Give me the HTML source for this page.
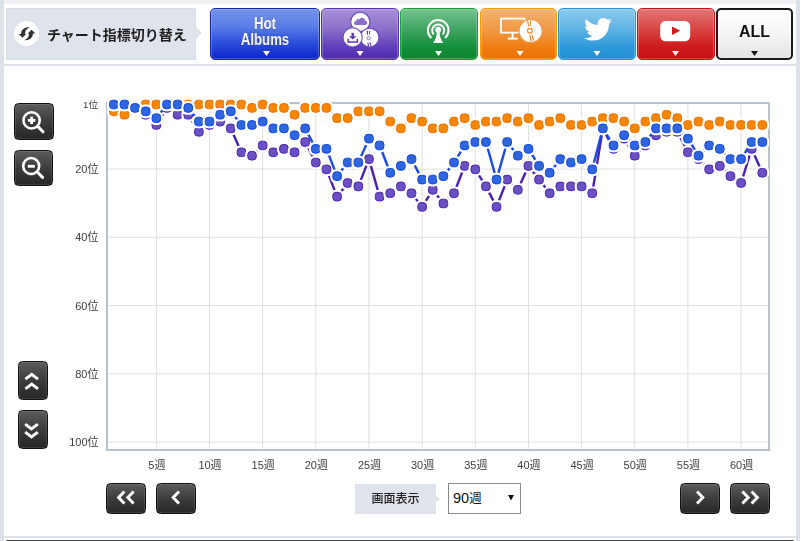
<!DOCTYPE html>
<html lang="ja"><head><meta charset="utf-8"><title>chart</title>
<style>
*{box-sizing:border-box}
html,body{margin:0;padding:0}
body{width:800px;height:541px;overflow:hidden;background:#fff;position:relative;font-family:"Liberation Sans","Noto Sans CJK JP",sans-serif}
.a{position:absolute}
.ax{font-family:"Liberation Sans","Noto Sans CJK JP",sans-serif;font-size:11px;fill:#404040}
.btn{position:absolute;top:8px;height:52px;border-radius:5px;border:1px solid;box-shadow:inset 0 0 0 1px rgba(255,255,255,.22)}
.dk{position:absolute;border-radius:4.5px;border:1px solid #111;background:linear-gradient(#5c5c5c,#3c3c3c 50%,#272727);box-shadow:inset 0 0 0 1px rgba(255,255,255,.1)}
</style></head><body>
<div class="a" style="left:0;top:0;width:800px;height:541px;will-change:transform">
<div class="a" style="left:0;top:0;width:4px;height:541px;background:#dde1ea"></div>
<div class="a" style="left:796px;top:0;width:4px;height:541px;background:#dde1ea"></div>
<div class="a" style="left:4px;top:0;width:792px;height:4px;background:#eff1f4"></div>
<div class="a" style="left:4px;top:64px;width:792px;height:2px;background:#dbe0e8"></div>
<div class="a" style="left:4px;top:536px;width:792px;height:2px;background:#dbe0e8"></div>
<div class="a" style="left:6px;top:540px;width:788px;height:1px;background:#464646;border-radius:2px 2px 0 0"></div>

<!-- header label -->
<div class="a" style="left:6px;top:8px;width:190px;height:52px;background:#dfe3eb;border:1px solid #d6dbe4"></div>
<svg class="a" style="left:0;top:0" width="800" height="70">
<polygon points="195.5,27 201.2,33 195.5,39" fill="#dfe3eb" stroke="#d5dae3" stroke-width="0.8"/><rect x="194" y="27.8" width="2" height="10.4" fill="#dfe3eb"/>
<circle cx="26.5" cy="33.5" r="12.5" fill="#fff"/>
</svg>
<div class="a" style="left:47px;top:25px;font-size:14px;font-weight:bold;color:#1e1e1e;white-space:nowrap;line-height:20px">チャート指標切り替え</div>

<!-- buttons -->
<div class="btn" style="left:210px;width:110px;border-color:#1222bb;background:linear-gradient(#7494e9,#5a7de7 35%,#2f52de 65%,#0d25c9)"></div>
<div class="btn" style="left:321px;width:78px;border-color:#5a2fb5;background:linear-gradient(#a892d6,#8a6fca 40%,#6240bb 75%,#4e2aae)"></div>
<div class="btn" style="left:400px;width:78px;border-color:#169c34;background:linear-gradient(#74c28f,#41a563 40%,#15903a 75%,#0b852d)"></div>
<div class="btn" style="left:480px;width:77px;border-color:#f59a00;background:linear-gradient(#f3b372,#f19a45 40%,#ef7f14 75%,#ec7000)"></div>
<div class="btn" style="left:558px;width:78px;border-color:#2196e0;background:linear-gradient(#8ccbec,#5fb3e4 40%,#2f9ad9 75%,#1f8fd4)"></div>
<div class="btn" style="left:637px;width:78px;border-color:#c81010;background:linear-gradient(#e27676,#d94545 40%,#cd1c1c 75%,#c60f0f)"></div>
<div class="btn" style="left:716px;width:77px;border-color:#1a1a1a;border-width:2px;background:linear-gradient(#ffffff,#f6f6f6 45%,#e4e4e4)"></div>
<div class="a" style="left:210px;top:14.5px;width:110px;text-align:center;color:#fff;font-weight:bold;font-size:16.5px;line-height:16px;text-shadow:0 0 2px rgba(0,10,90,.45);transform:scaleX(0.80);transform-origin:55px 0">Hot<br>Albums</div>
<div class="a" style="left:716px;top:22px;width:77px;text-align:center;color:#111;font-weight:bold;font-size:16px;line-height:20px;text-shadow:0 0 2px #fff">ALL</div>
<svg class="a" style="left:0;top:0" width="800" height="70">
<polygon points="263.0,50.9 270.0,50.9 266.5,55.9" fill="#fff"/><polygon points="356.5,50.9 363.5,50.9 360,55.9" fill="#fff"/><polygon points="435.0,50.9 442.0,50.9 438.5,55.9" fill="#fff"/><polygon points="516.5,50.9 523.5,50.9 520,55.9" fill="#fff"/><polygon points="593.5,50.9 600.5,50.9 597,55.9" fill="#fff"/><polygon points="672.0,50.9 679.0,50.9 675.5,55.9" fill="#fff"/><polygon points="751.0,50.9 758.0,50.9 754.5,55.9" fill="#111"/>
</svg>

<!-- chart -->
<svg class="a" style="left:0;top:0" width="800" height="541">
<line x1="156.36" y1="104" x2="156.36" y2="449" stroke="#dedede" stroke-width="1"/>
<line x1="209.51" y1="104" x2="209.51" y2="449" stroke="#dedede" stroke-width="1"/>
<line x1="262.67" y1="104" x2="262.67" y2="449" stroke="#dedede" stroke-width="1"/>
<line x1="315.82" y1="104" x2="315.82" y2="449" stroke="#dedede" stroke-width="1"/>
<line x1="368.97" y1="104" x2="368.97" y2="449" stroke="#dedede" stroke-width="1"/>
<line x1="422.13" y1="104" x2="422.13" y2="449" stroke="#dedede" stroke-width="1"/>
<line x1="475.29" y1="104" x2="475.29" y2="449" stroke="#dedede" stroke-width="1"/>
<line x1="528.44" y1="104" x2="528.44" y2="449" stroke="#dedede" stroke-width="1"/>
<line x1="581.6" y1="104" x2="581.6" y2="449" stroke="#dedede" stroke-width="1"/>
<line x1="634.75" y1="104" x2="634.75" y2="449" stroke="#dedede" stroke-width="1"/>
<line x1="687.91" y1="104" x2="687.91" y2="449" stroke="#dedede" stroke-width="1"/>
<line x1="741.06" y1="104" x2="741.06" y2="449" stroke="#dedede" stroke-width="1"/>
<line x1="108" y1="169.04" x2="768" y2="169.04" stroke="#e0e0e0" stroke-width="1"/>
<line x1="108" y1="237.29" x2="768" y2="237.29" stroke="#e0e0e0" stroke-width="1"/>
<line x1="108" y1="305.54" x2="768" y2="305.54" stroke="#e0e0e0" stroke-width="1"/>
<line x1="108" y1="373.79" x2="768" y2="373.79" stroke="#e0e0e0" stroke-width="1"/>
<line x1="108" y1="442.04" x2="768" y2="442.04" stroke="#e0e0e0" stroke-width="1"/>
<rect x="107" y="103" width="662" height="347" fill="none" stroke="#b9c1cf" stroke-width="2"/>
<polyline points="113.83,111.33 124.46,114.74 135.09,107.91 145.72,104.50 156.36,104.50 166.99,104.50 177.62,104.50 188.25,104.50 198.88,104.50 209.51,104.50 220.14,104.50 230.77,104.50 241.40,104.50 252.03,107.91 262.67,104.50 273.30,107.91 283.93,107.91 294.56,114.74 305.19,107.91 315.82,107.91 326.45,107.91 337.08,118.15 347.71,118.15 358.34,111.33 368.97,111.33 379.61,111.33 390.24,121.56 400.87,128.39 411.50,118.15 422.13,121.56 432.76,128.39 443.39,128.39 454.02,121.56 464.65,118.15 475.29,124.98 485.92,121.56 496.55,121.56 507.18,118.15 517.81,121.56 528.44,118.15 539.07,124.98 549.70,121.56 560.33,118.15 570.96,124.98 581.60,124.98 592.23,121.56 602.86,118.15 613.49,118.15 624.12,121.56 634.75,128.39 645.38,121.56 656.01,118.15 666.64,114.74 677.27,118.15 687.91,124.98 698.54,121.56 709.17,124.98 719.80,121.56 730.43,124.98 741.06,124.98 751.69,124.98 762.32,124.98" fill="none" stroke="#f27a00" stroke-width="2.4" stroke-linejoin="round"/>
<rect x="107.03" y="104.53" width="13.6" height="13.6" rx="5.4" fill="#fff"/><rect x="109.53" y="107.03" width="8.6" height="8.6" rx="3.3" fill="#f78600" stroke="#ef6e00" stroke-width="1"/>
<rect x="117.66" y="107.94" width="13.6" height="13.6" rx="5.4" fill="#fff"/><rect x="120.16" y="110.44" width="8.6" height="8.6" rx="3.3" fill="#f78600" stroke="#ef6e00" stroke-width="1"/>
<rect x="128.29" y="101.11" width="13.6" height="13.6" rx="5.4" fill="#fff"/><rect x="130.79" y="103.61" width="8.6" height="8.6" rx="3.3" fill="#f78600" stroke="#ef6e00" stroke-width="1"/>
<rect x="138.92" y="97.70" width="13.6" height="13.6" rx="5.4" fill="#fff"/><rect x="141.42" y="100.20" width="8.6" height="8.6" rx="3.3" fill="#f78600" stroke="#ef6e00" stroke-width="1"/>
<rect x="149.56" y="97.70" width="13.6" height="13.6" rx="5.4" fill="#fff"/><rect x="152.06" y="100.20" width="8.6" height="8.6" rx="3.3" fill="#f78600" stroke="#ef6e00" stroke-width="1"/>
<rect x="160.19" y="97.70" width="13.6" height="13.6" rx="5.4" fill="#fff"/><rect x="162.69" y="100.20" width="8.6" height="8.6" rx="3.3" fill="#f78600" stroke="#ef6e00" stroke-width="1"/>
<rect x="170.82" y="97.70" width="13.6" height="13.6" rx="5.4" fill="#fff"/><rect x="173.32" y="100.20" width="8.6" height="8.6" rx="3.3" fill="#f78600" stroke="#ef6e00" stroke-width="1"/>
<rect x="181.45" y="97.70" width="13.6" height="13.6" rx="5.4" fill="#fff"/><rect x="183.95" y="100.20" width="8.6" height="8.6" rx="3.3" fill="#f78600" stroke="#ef6e00" stroke-width="1"/>
<rect x="192.08" y="97.70" width="13.6" height="13.6" rx="5.4" fill="#fff"/><rect x="194.58" y="100.20" width="8.6" height="8.6" rx="3.3" fill="#f78600" stroke="#ef6e00" stroke-width="1"/>
<rect x="202.71" y="97.70" width="13.6" height="13.6" rx="5.4" fill="#fff"/><rect x="205.21" y="100.20" width="8.6" height="8.6" rx="3.3" fill="#f78600" stroke="#ef6e00" stroke-width="1"/>
<rect x="213.34" y="97.70" width="13.6" height="13.6" rx="5.4" fill="#fff"/><rect x="215.84" y="100.20" width="8.6" height="8.6" rx="3.3" fill="#f78600" stroke="#ef6e00" stroke-width="1"/>
<rect x="223.97" y="97.70" width="13.6" height="13.6" rx="5.4" fill="#fff"/><rect x="226.47" y="100.20" width="8.6" height="8.6" rx="3.3" fill="#f78600" stroke="#ef6e00" stroke-width="1"/>
<rect x="234.60" y="97.70" width="13.6" height="13.6" rx="5.4" fill="#fff"/><rect x="237.10" y="100.20" width="8.6" height="8.6" rx="3.3" fill="#f78600" stroke="#ef6e00" stroke-width="1"/>
<rect x="245.23" y="101.11" width="13.6" height="13.6" rx="5.4" fill="#fff"/><rect x="247.73" y="103.61" width="8.6" height="8.6" rx="3.3" fill="#f78600" stroke="#ef6e00" stroke-width="1"/>
<rect x="255.87" y="97.70" width="13.6" height="13.6" rx="5.4" fill="#fff"/><rect x="258.37" y="100.20" width="8.6" height="8.6" rx="3.3" fill="#f78600" stroke="#ef6e00" stroke-width="1"/>
<rect x="266.50" y="101.11" width="13.6" height="13.6" rx="5.4" fill="#fff"/><rect x="269.00" y="103.61" width="8.6" height="8.6" rx="3.3" fill="#f78600" stroke="#ef6e00" stroke-width="1"/>
<rect x="277.13" y="101.11" width="13.6" height="13.6" rx="5.4" fill="#fff"/><rect x="279.63" y="103.61" width="8.6" height="8.6" rx="3.3" fill="#f78600" stroke="#ef6e00" stroke-width="1"/>
<rect x="287.76" y="107.94" width="13.6" height="13.6" rx="5.4" fill="#fff"/><rect x="290.26" y="110.44" width="8.6" height="8.6" rx="3.3" fill="#f78600" stroke="#ef6e00" stroke-width="1"/>
<rect x="298.39" y="101.11" width="13.6" height="13.6" rx="5.4" fill="#fff"/><rect x="300.89" y="103.61" width="8.6" height="8.6" rx="3.3" fill="#f78600" stroke="#ef6e00" stroke-width="1"/>
<rect x="309.02" y="101.11" width="13.6" height="13.6" rx="5.4" fill="#fff"/><rect x="311.52" y="103.61" width="8.6" height="8.6" rx="3.3" fill="#f78600" stroke="#ef6e00" stroke-width="1"/>
<rect x="319.65" y="101.11" width="13.6" height="13.6" rx="5.4" fill="#fff"/><rect x="322.15" y="103.61" width="8.6" height="8.6" rx="3.3" fill="#f78600" stroke="#ef6e00" stroke-width="1"/>
<rect x="330.28" y="111.35" width="13.6" height="13.6" rx="5.4" fill="#fff"/><rect x="332.78" y="113.85" width="8.6" height="8.6" rx="3.3" fill="#f78600" stroke="#ef6e00" stroke-width="1"/>
<rect x="340.91" y="111.35" width="13.6" height="13.6" rx="5.4" fill="#fff"/><rect x="343.41" y="113.85" width="8.6" height="8.6" rx="3.3" fill="#f78600" stroke="#ef6e00" stroke-width="1"/>
<rect x="351.54" y="104.53" width="13.6" height="13.6" rx="5.4" fill="#fff"/><rect x="354.04" y="107.03" width="8.6" height="8.6" rx="3.3" fill="#f78600" stroke="#ef6e00" stroke-width="1"/>
<rect x="362.17" y="104.53" width="13.6" height="13.6" rx="5.4" fill="#fff"/><rect x="364.67" y="107.03" width="8.6" height="8.6" rx="3.3" fill="#f78600" stroke="#ef6e00" stroke-width="1"/>
<rect x="372.81" y="104.53" width="13.6" height="13.6" rx="5.4" fill="#fff"/><rect x="375.31" y="107.03" width="8.6" height="8.6" rx="3.3" fill="#f78600" stroke="#ef6e00" stroke-width="1"/>
<rect x="383.44" y="114.76" width="13.6" height="13.6" rx="5.4" fill="#fff"/><rect x="385.94" y="117.26" width="8.6" height="8.6" rx="3.3" fill="#f78600" stroke="#ef6e00" stroke-width="1"/>
<rect x="394.07" y="121.59" width="13.6" height="13.6" rx="5.4" fill="#fff"/><rect x="396.57" y="124.09" width="8.6" height="8.6" rx="3.3" fill="#f78600" stroke="#ef6e00" stroke-width="1"/>
<rect x="404.70" y="111.35" width="13.6" height="13.6" rx="5.4" fill="#fff"/><rect x="407.20" y="113.85" width="8.6" height="8.6" rx="3.3" fill="#f78600" stroke="#ef6e00" stroke-width="1"/>
<rect x="415.33" y="114.76" width="13.6" height="13.6" rx="5.4" fill="#fff"/><rect x="417.83" y="117.26" width="8.6" height="8.6" rx="3.3" fill="#f78600" stroke="#ef6e00" stroke-width="1"/>
<rect x="425.96" y="121.59" width="13.6" height="13.6" rx="5.4" fill="#fff"/><rect x="428.46" y="124.09" width="8.6" height="8.6" rx="3.3" fill="#f78600" stroke="#ef6e00" stroke-width="1"/>
<rect x="436.59" y="121.59" width="13.6" height="13.6" rx="5.4" fill="#fff"/><rect x="439.09" y="124.09" width="8.6" height="8.6" rx="3.3" fill="#f78600" stroke="#ef6e00" stroke-width="1"/>
<rect x="447.22" y="114.76" width="13.6" height="13.6" rx="5.4" fill="#fff"/><rect x="449.72" y="117.26" width="8.6" height="8.6" rx="3.3" fill="#f78600" stroke="#ef6e00" stroke-width="1"/>
<rect x="457.85" y="111.35" width="13.6" height="13.6" rx="5.4" fill="#fff"/><rect x="460.35" y="113.85" width="8.6" height="8.6" rx="3.3" fill="#f78600" stroke="#ef6e00" stroke-width="1"/>
<rect x="468.49" y="118.18" width="13.6" height="13.6" rx="5.4" fill="#fff"/><rect x="470.99" y="120.68" width="8.6" height="8.6" rx="3.3" fill="#f78600" stroke="#ef6e00" stroke-width="1"/>
<rect x="479.12" y="114.76" width="13.6" height="13.6" rx="5.4" fill="#fff"/><rect x="481.62" y="117.26" width="8.6" height="8.6" rx="3.3" fill="#f78600" stroke="#ef6e00" stroke-width="1"/>
<rect x="489.75" y="114.76" width="13.6" height="13.6" rx="5.4" fill="#fff"/><rect x="492.25" y="117.26" width="8.6" height="8.6" rx="3.3" fill="#f78600" stroke="#ef6e00" stroke-width="1"/>
<rect x="500.38" y="111.35" width="13.6" height="13.6" rx="5.4" fill="#fff"/><rect x="502.88" y="113.85" width="8.6" height="8.6" rx="3.3" fill="#f78600" stroke="#ef6e00" stroke-width="1"/>
<rect x="511.01" y="114.76" width="13.6" height="13.6" rx="5.4" fill="#fff"/><rect x="513.51" y="117.26" width="8.6" height="8.6" rx="3.3" fill="#f78600" stroke="#ef6e00" stroke-width="1"/>
<rect x="521.64" y="111.35" width="13.6" height="13.6" rx="5.4" fill="#fff"/><rect x="524.14" y="113.85" width="8.6" height="8.6" rx="3.3" fill="#f78600" stroke="#ef6e00" stroke-width="1"/>
<rect x="532.27" y="118.18" width="13.6" height="13.6" rx="5.4" fill="#fff"/><rect x="534.77" y="120.68" width="8.6" height="8.6" rx="3.3" fill="#f78600" stroke="#ef6e00" stroke-width="1"/>
<rect x="542.90" y="114.76" width="13.6" height="13.6" rx="5.4" fill="#fff"/><rect x="545.40" y="117.26" width="8.6" height="8.6" rx="3.3" fill="#f78600" stroke="#ef6e00" stroke-width="1"/>
<rect x="553.53" y="111.35" width="13.6" height="13.6" rx="5.4" fill="#fff"/><rect x="556.03" y="113.85" width="8.6" height="8.6" rx="3.3" fill="#f78600" stroke="#ef6e00" stroke-width="1"/>
<rect x="564.16" y="118.18" width="13.6" height="13.6" rx="5.4" fill="#fff"/><rect x="566.66" y="120.68" width="8.6" height="8.6" rx="3.3" fill="#f78600" stroke="#ef6e00" stroke-width="1"/>
<rect x="574.80" y="118.18" width="13.6" height="13.6" rx="5.4" fill="#fff"/><rect x="577.30" y="120.68" width="8.6" height="8.6" rx="3.3" fill="#f78600" stroke="#ef6e00" stroke-width="1"/>
<rect x="585.43" y="114.76" width="13.6" height="13.6" rx="5.4" fill="#fff"/><rect x="587.93" y="117.26" width="8.6" height="8.6" rx="3.3" fill="#f78600" stroke="#ef6e00" stroke-width="1"/>
<rect x="596.06" y="111.35" width="13.6" height="13.6" rx="5.4" fill="#fff"/><rect x="598.56" y="113.85" width="8.6" height="8.6" rx="3.3" fill="#f78600" stroke="#ef6e00" stroke-width="1"/>
<rect x="606.69" y="111.35" width="13.6" height="13.6" rx="5.4" fill="#fff"/><rect x="609.19" y="113.85" width="8.6" height="8.6" rx="3.3" fill="#f78600" stroke="#ef6e00" stroke-width="1"/>
<rect x="617.32" y="114.76" width="13.6" height="13.6" rx="5.4" fill="#fff"/><rect x="619.82" y="117.26" width="8.6" height="8.6" rx="3.3" fill="#f78600" stroke="#ef6e00" stroke-width="1"/>
<rect x="627.95" y="121.59" width="13.6" height="13.6" rx="5.4" fill="#fff"/><rect x="630.45" y="124.09" width="8.6" height="8.6" rx="3.3" fill="#f78600" stroke="#ef6e00" stroke-width="1"/>
<rect x="638.58" y="114.76" width="13.6" height="13.6" rx="5.4" fill="#fff"/><rect x="641.08" y="117.26" width="8.6" height="8.6" rx="3.3" fill="#f78600" stroke="#ef6e00" stroke-width="1"/>
<rect x="649.21" y="111.35" width="13.6" height="13.6" rx="5.4" fill="#fff"/><rect x="651.71" y="113.85" width="8.6" height="8.6" rx="3.3" fill="#f78600" stroke="#ef6e00" stroke-width="1"/>
<rect x="659.84" y="107.94" width="13.6" height="13.6" rx="5.4" fill="#fff"/><rect x="662.34" y="110.44" width="8.6" height="8.6" rx="3.3" fill="#f78600" stroke="#ef6e00" stroke-width="1"/>
<rect x="670.47" y="111.35" width="13.6" height="13.6" rx="5.4" fill="#fff"/><rect x="672.97" y="113.85" width="8.6" height="8.6" rx="3.3" fill="#f78600" stroke="#ef6e00" stroke-width="1"/>
<rect x="681.11" y="118.18" width="13.6" height="13.6" rx="5.4" fill="#fff"/><rect x="683.61" y="120.68" width="8.6" height="8.6" rx="3.3" fill="#f78600" stroke="#ef6e00" stroke-width="1"/>
<rect x="691.74" y="114.76" width="13.6" height="13.6" rx="5.4" fill="#fff"/><rect x="694.24" y="117.26" width="8.6" height="8.6" rx="3.3" fill="#f78600" stroke="#ef6e00" stroke-width="1"/>
<rect x="702.37" y="118.18" width="13.6" height="13.6" rx="5.4" fill="#fff"/><rect x="704.87" y="120.68" width="8.6" height="8.6" rx="3.3" fill="#f78600" stroke="#ef6e00" stroke-width="1"/>
<rect x="713.00" y="114.76" width="13.6" height="13.6" rx="5.4" fill="#fff"/><rect x="715.50" y="117.26" width="8.6" height="8.6" rx="3.3" fill="#f78600" stroke="#ef6e00" stroke-width="1"/>
<rect x="723.63" y="118.18" width="13.6" height="13.6" rx="5.4" fill="#fff"/><rect x="726.13" y="120.68" width="8.6" height="8.6" rx="3.3" fill="#f78600" stroke="#ef6e00" stroke-width="1"/>
<rect x="734.26" y="118.18" width="13.6" height="13.6" rx="5.4" fill="#fff"/><rect x="736.76" y="120.68" width="8.6" height="8.6" rx="3.3" fill="#f78600" stroke="#ef6e00" stroke-width="1"/>
<rect x="744.89" y="118.18" width="13.6" height="13.6" rx="5.4" fill="#fff"/><rect x="747.39" y="120.68" width="8.6" height="8.6" rx="3.3" fill="#f78600" stroke="#ef6e00" stroke-width="1"/>
<rect x="755.52" y="118.18" width="13.6" height="13.6" rx="5.4" fill="#fff"/><rect x="758.02" y="120.68" width="8.6" height="8.6" rx="3.3" fill="#f78600" stroke="#ef6e00" stroke-width="1"/>

<polyline points="113.83,104.50 124.46,104.50 135.09,107.91 145.72,114.74 156.36,124.98 166.99,107.91 177.62,114.74 188.25,114.74 198.88,131.80 209.51,124.98 220.14,121.56 230.77,128.39 241.40,152.28 252.03,155.69 262.67,145.45 273.30,152.28 283.93,148.86 294.56,152.28 305.19,142.04 315.82,162.51 326.45,169.34 337.08,196.64 347.71,182.99 358.34,186.40 368.97,159.10 379.61,196.64 390.24,193.23 400.87,186.40 411.50,193.23 422.13,206.88 432.76,189.81 443.39,203.46 454.02,193.23 464.65,165.93 475.29,169.34 485.92,186.40 496.55,206.88 507.18,179.58 517.81,189.81 528.44,165.93 539.07,179.58 549.70,193.23 560.33,186.40 570.96,186.40 581.60,186.40 592.23,193.23 602.86,128.39 613.49,148.86 624.12,138.62 634.75,155.69 645.38,145.45 656.01,135.21 666.64,131.80 677.27,131.80 687.91,152.28 698.54,159.10 709.17,169.34 719.80,165.93 730.43,176.16 741.06,182.99 751.69,148.86 762.32,172.75" fill="none" stroke="#4a1db3" stroke-width="2.4" stroke-linejoin="round"/>
<rect x="107.03" y="97.70" width="13.6" height="13.6" rx="5.4" fill="#fff"/><rect x="109.53" y="100.20" width="8.6" height="8.6" rx="3.3" fill="#6b50c3" stroke="#4a24b2" stroke-width="1"/>
<rect x="117.66" y="97.70" width="13.6" height="13.6" rx="5.4" fill="#fff"/><rect x="120.16" y="100.20" width="8.6" height="8.6" rx="3.3" fill="#6b50c3" stroke="#4a24b2" stroke-width="1"/>
<rect x="128.29" y="101.11" width="13.6" height="13.6" rx="5.4" fill="#fff"/><rect x="130.79" y="103.61" width="8.6" height="8.6" rx="3.3" fill="#6b50c3" stroke="#4a24b2" stroke-width="1"/>
<rect x="138.92" y="107.94" width="13.6" height="13.6" rx="5.4" fill="#fff"/><rect x="141.42" y="110.44" width="8.6" height="8.6" rx="3.3" fill="#6b50c3" stroke="#4a24b2" stroke-width="1"/>
<rect x="149.56" y="118.18" width="13.6" height="13.6" rx="5.4" fill="#fff"/><rect x="152.06" y="120.68" width="8.6" height="8.6" rx="3.3" fill="#6b50c3" stroke="#4a24b2" stroke-width="1"/>
<rect x="160.19" y="101.11" width="13.6" height="13.6" rx="5.4" fill="#fff"/><rect x="162.69" y="103.61" width="8.6" height="8.6" rx="3.3" fill="#6b50c3" stroke="#4a24b2" stroke-width="1"/>
<rect x="170.82" y="107.94" width="13.6" height="13.6" rx="5.4" fill="#fff"/><rect x="173.32" y="110.44" width="8.6" height="8.6" rx="3.3" fill="#6b50c3" stroke="#4a24b2" stroke-width="1"/>
<rect x="181.45" y="107.94" width="13.6" height="13.6" rx="5.4" fill="#fff"/><rect x="183.95" y="110.44" width="8.6" height="8.6" rx="3.3" fill="#6b50c3" stroke="#4a24b2" stroke-width="1"/>
<rect x="192.08" y="125.00" width="13.6" height="13.6" rx="5.4" fill="#fff"/><rect x="194.58" y="127.50" width="8.6" height="8.6" rx="3.3" fill="#6b50c3" stroke="#4a24b2" stroke-width="1"/>
<rect x="202.71" y="118.18" width="13.6" height="13.6" rx="5.4" fill="#fff"/><rect x="205.21" y="120.68" width="8.6" height="8.6" rx="3.3" fill="#6b50c3" stroke="#4a24b2" stroke-width="1"/>
<rect x="213.34" y="114.76" width="13.6" height="13.6" rx="5.4" fill="#fff"/><rect x="215.84" y="117.26" width="8.6" height="8.6" rx="3.3" fill="#6b50c3" stroke="#4a24b2" stroke-width="1"/>
<rect x="223.97" y="121.59" width="13.6" height="13.6" rx="5.4" fill="#fff"/><rect x="226.47" y="124.09" width="8.6" height="8.6" rx="3.3" fill="#6b50c3" stroke="#4a24b2" stroke-width="1"/>
<rect x="234.60" y="145.47" width="13.6" height="13.6" rx="5.4" fill="#fff"/><rect x="237.10" y="147.97" width="8.6" height="8.6" rx="3.3" fill="#6b50c3" stroke="#4a24b2" stroke-width="1"/>
<rect x="245.23" y="148.89" width="13.6" height="13.6" rx="5.4" fill="#fff"/><rect x="247.73" y="151.39" width="8.6" height="8.6" rx="3.3" fill="#6b50c3" stroke="#4a24b2" stroke-width="1"/>
<rect x="255.87" y="138.65" width="13.6" height="13.6" rx="5.4" fill="#fff"/><rect x="258.37" y="141.15" width="8.6" height="8.6" rx="3.3" fill="#6b50c3" stroke="#4a24b2" stroke-width="1"/>
<rect x="266.50" y="145.47" width="13.6" height="13.6" rx="5.4" fill="#fff"/><rect x="269.00" y="147.97" width="8.6" height="8.6" rx="3.3" fill="#6b50c3" stroke="#4a24b2" stroke-width="1"/>
<rect x="277.13" y="142.06" width="13.6" height="13.6" rx="5.4" fill="#fff"/><rect x="279.63" y="144.56" width="8.6" height="8.6" rx="3.3" fill="#6b50c3" stroke="#4a24b2" stroke-width="1"/>
<rect x="287.76" y="145.47" width="13.6" height="13.6" rx="5.4" fill="#fff"/><rect x="290.26" y="147.97" width="8.6" height="8.6" rx="3.3" fill="#6b50c3" stroke="#4a24b2" stroke-width="1"/>
<rect x="298.39" y="135.24" width="13.6" height="13.6" rx="5.4" fill="#fff"/><rect x="300.89" y="137.74" width="8.6" height="8.6" rx="3.3" fill="#6b50c3" stroke="#4a24b2" stroke-width="1"/>
<rect x="309.02" y="155.71" width="13.6" height="13.6" rx="5.4" fill="#fff"/><rect x="311.52" y="158.21" width="8.6" height="8.6" rx="3.3" fill="#6b50c3" stroke="#4a24b2" stroke-width="1"/>
<rect x="319.65" y="162.54" width="13.6" height="13.6" rx="5.4" fill="#fff"/><rect x="322.15" y="165.04" width="8.6" height="8.6" rx="3.3" fill="#6b50c3" stroke="#4a24b2" stroke-width="1"/>
<rect x="330.28" y="189.84" width="13.6" height="13.6" rx="5.4" fill="#fff"/><rect x="332.78" y="192.34" width="8.6" height="8.6" rx="3.3" fill="#6b50c3" stroke="#4a24b2" stroke-width="1"/>
<rect x="340.91" y="176.19" width="13.6" height="13.6" rx="5.4" fill="#fff"/><rect x="343.41" y="178.69" width="8.6" height="8.6" rx="3.3" fill="#6b50c3" stroke="#4a24b2" stroke-width="1"/>
<rect x="351.54" y="179.60" width="13.6" height="13.6" rx="5.4" fill="#fff"/><rect x="354.04" y="182.10" width="8.6" height="8.6" rx="3.3" fill="#6b50c3" stroke="#4a24b2" stroke-width="1"/>
<rect x="362.17" y="152.30" width="13.6" height="13.6" rx="5.4" fill="#fff"/><rect x="364.67" y="154.80" width="8.6" height="8.6" rx="3.3" fill="#6b50c3" stroke="#4a24b2" stroke-width="1"/>
<rect x="372.81" y="189.84" width="13.6" height="13.6" rx="5.4" fill="#fff"/><rect x="375.31" y="192.34" width="8.6" height="8.6" rx="3.3" fill="#6b50c3" stroke="#4a24b2" stroke-width="1"/>
<rect x="383.44" y="186.43" width="13.6" height="13.6" rx="5.4" fill="#fff"/><rect x="385.94" y="188.93" width="8.6" height="8.6" rx="3.3" fill="#6b50c3" stroke="#4a24b2" stroke-width="1"/>
<rect x="394.07" y="179.60" width="13.6" height="13.6" rx="5.4" fill="#fff"/><rect x="396.57" y="182.10" width="8.6" height="8.6" rx="3.3" fill="#6b50c3" stroke="#4a24b2" stroke-width="1"/>
<rect x="404.70" y="186.43" width="13.6" height="13.6" rx="5.4" fill="#fff"/><rect x="407.20" y="188.93" width="8.6" height="8.6" rx="3.3" fill="#6b50c3" stroke="#4a24b2" stroke-width="1"/>
<rect x="415.33" y="200.07" width="13.6" height="13.6" rx="5.4" fill="#fff"/><rect x="417.83" y="202.57" width="8.6" height="8.6" rx="3.3" fill="#6b50c3" stroke="#4a24b2" stroke-width="1"/>
<rect x="425.96" y="183.01" width="13.6" height="13.6" rx="5.4" fill="#fff"/><rect x="428.46" y="185.51" width="8.6" height="8.6" rx="3.3" fill="#6b50c3" stroke="#4a24b2" stroke-width="1"/>
<rect x="436.59" y="196.66" width="13.6" height="13.6" rx="5.4" fill="#fff"/><rect x="439.09" y="199.16" width="8.6" height="8.6" rx="3.3" fill="#6b50c3" stroke="#4a24b2" stroke-width="1"/>
<rect x="447.22" y="186.43" width="13.6" height="13.6" rx="5.4" fill="#fff"/><rect x="449.72" y="188.93" width="8.6" height="8.6" rx="3.3" fill="#6b50c3" stroke="#4a24b2" stroke-width="1"/>
<rect x="457.85" y="159.12" width="13.6" height="13.6" rx="5.4" fill="#fff"/><rect x="460.35" y="161.62" width="8.6" height="8.6" rx="3.3" fill="#6b50c3" stroke="#4a24b2" stroke-width="1"/>
<rect x="468.49" y="162.54" width="13.6" height="13.6" rx="5.4" fill="#fff"/><rect x="470.99" y="165.04" width="8.6" height="8.6" rx="3.3" fill="#6b50c3" stroke="#4a24b2" stroke-width="1"/>
<rect x="479.12" y="179.60" width="13.6" height="13.6" rx="5.4" fill="#fff"/><rect x="481.62" y="182.10" width="8.6" height="8.6" rx="3.3" fill="#6b50c3" stroke="#4a24b2" stroke-width="1"/>
<rect x="489.75" y="200.07" width="13.6" height="13.6" rx="5.4" fill="#fff"/><rect x="492.25" y="202.57" width="8.6" height="8.6" rx="3.3" fill="#6b50c3" stroke="#4a24b2" stroke-width="1"/>
<rect x="500.38" y="172.78" width="13.6" height="13.6" rx="5.4" fill="#fff"/><rect x="502.88" y="175.28" width="8.6" height="8.6" rx="3.3" fill="#6b50c3" stroke="#4a24b2" stroke-width="1"/>
<rect x="511.01" y="183.01" width="13.6" height="13.6" rx="5.4" fill="#fff"/><rect x="513.51" y="185.51" width="8.6" height="8.6" rx="3.3" fill="#6b50c3" stroke="#4a24b2" stroke-width="1"/>
<rect x="521.64" y="159.12" width="13.6" height="13.6" rx="5.4" fill="#fff"/><rect x="524.14" y="161.62" width="8.6" height="8.6" rx="3.3" fill="#6b50c3" stroke="#4a24b2" stroke-width="1"/>
<rect x="532.27" y="172.78" width="13.6" height="13.6" rx="5.4" fill="#fff"/><rect x="534.77" y="175.28" width="8.6" height="8.6" rx="3.3" fill="#6b50c3" stroke="#4a24b2" stroke-width="1"/>
<rect x="542.90" y="186.43" width="13.6" height="13.6" rx="5.4" fill="#fff"/><rect x="545.40" y="188.93" width="8.6" height="8.6" rx="3.3" fill="#6b50c3" stroke="#4a24b2" stroke-width="1"/>
<rect x="553.53" y="179.60" width="13.6" height="13.6" rx="5.4" fill="#fff"/><rect x="556.03" y="182.10" width="8.6" height="8.6" rx="3.3" fill="#6b50c3" stroke="#4a24b2" stroke-width="1"/>
<rect x="564.16" y="179.60" width="13.6" height="13.6" rx="5.4" fill="#fff"/><rect x="566.66" y="182.10" width="8.6" height="8.6" rx="3.3" fill="#6b50c3" stroke="#4a24b2" stroke-width="1"/>
<rect x="574.80" y="179.60" width="13.6" height="13.6" rx="5.4" fill="#fff"/><rect x="577.30" y="182.10" width="8.6" height="8.6" rx="3.3" fill="#6b50c3" stroke="#4a24b2" stroke-width="1"/>
<rect x="585.43" y="186.43" width="13.6" height="13.6" rx="5.4" fill="#fff"/><rect x="587.93" y="188.93" width="8.6" height="8.6" rx="3.3" fill="#6b50c3" stroke="#4a24b2" stroke-width="1"/>
<rect x="596.06" y="121.59" width="13.6" height="13.6" rx="5.4" fill="#fff"/><rect x="598.56" y="124.09" width="8.6" height="8.6" rx="3.3" fill="#6b50c3" stroke="#4a24b2" stroke-width="1"/>
<rect x="606.69" y="142.06" width="13.6" height="13.6" rx="5.4" fill="#fff"/><rect x="609.19" y="144.56" width="8.6" height="8.6" rx="3.3" fill="#6b50c3" stroke="#4a24b2" stroke-width="1"/>
<rect x="617.32" y="131.82" width="13.6" height="13.6" rx="5.4" fill="#fff"/><rect x="619.82" y="134.32" width="8.6" height="8.6" rx="3.3" fill="#6b50c3" stroke="#4a24b2" stroke-width="1"/>
<rect x="627.95" y="148.89" width="13.6" height="13.6" rx="5.4" fill="#fff"/><rect x="630.45" y="151.39" width="8.6" height="8.6" rx="3.3" fill="#6b50c3" stroke="#4a24b2" stroke-width="1"/>
<rect x="638.58" y="138.65" width="13.6" height="13.6" rx="5.4" fill="#fff"/><rect x="641.08" y="141.15" width="8.6" height="8.6" rx="3.3" fill="#6b50c3" stroke="#4a24b2" stroke-width="1"/>
<rect x="649.21" y="128.41" width="13.6" height="13.6" rx="5.4" fill="#fff"/><rect x="651.71" y="130.91" width="8.6" height="8.6" rx="3.3" fill="#6b50c3" stroke="#4a24b2" stroke-width="1"/>
<rect x="659.84" y="125.00" width="13.6" height="13.6" rx="5.4" fill="#fff"/><rect x="662.34" y="127.50" width="8.6" height="8.6" rx="3.3" fill="#6b50c3" stroke="#4a24b2" stroke-width="1"/>
<rect x="670.47" y="125.00" width="13.6" height="13.6" rx="5.4" fill="#fff"/><rect x="672.97" y="127.50" width="8.6" height="8.6" rx="3.3" fill="#6b50c3" stroke="#4a24b2" stroke-width="1"/>
<rect x="681.11" y="145.47" width="13.6" height="13.6" rx="5.4" fill="#fff"/><rect x="683.61" y="147.97" width="8.6" height="8.6" rx="3.3" fill="#6b50c3" stroke="#4a24b2" stroke-width="1"/>
<rect x="691.74" y="152.30" width="13.6" height="13.6" rx="5.4" fill="#fff"/><rect x="694.24" y="154.80" width="8.6" height="8.6" rx="3.3" fill="#6b50c3" stroke="#4a24b2" stroke-width="1"/>
<rect x="702.37" y="162.54" width="13.6" height="13.6" rx="5.4" fill="#fff"/><rect x="704.87" y="165.04" width="8.6" height="8.6" rx="3.3" fill="#6b50c3" stroke="#4a24b2" stroke-width="1"/>
<rect x="713.00" y="159.12" width="13.6" height="13.6" rx="5.4" fill="#fff"/><rect x="715.50" y="161.62" width="8.6" height="8.6" rx="3.3" fill="#6b50c3" stroke="#4a24b2" stroke-width="1"/>
<rect x="723.63" y="169.36" width="13.6" height="13.6" rx="5.4" fill="#fff"/><rect x="726.13" y="171.86" width="8.6" height="8.6" rx="3.3" fill="#6b50c3" stroke="#4a24b2" stroke-width="1"/>
<rect x="734.26" y="176.19" width="13.6" height="13.6" rx="5.4" fill="#fff"/><rect x="736.76" y="178.69" width="8.6" height="8.6" rx="3.3" fill="#6b50c3" stroke="#4a24b2" stroke-width="1"/>
<rect x="744.89" y="142.06" width="13.6" height="13.6" rx="5.4" fill="#fff"/><rect x="747.39" y="144.56" width="8.6" height="8.6" rx="3.3" fill="#6b50c3" stroke="#4a24b2" stroke-width="1"/>
<rect x="755.52" y="165.95" width="13.6" height="13.6" rx="5.4" fill="#fff"/><rect x="758.02" y="168.45" width="8.6" height="8.6" rx="3.3" fill="#6b50c3" stroke="#4a24b2" stroke-width="1"/>

<polyline points="113.83,104.50 124.46,104.50 135.09,107.91 145.72,111.33 156.36,118.15 166.99,104.50 177.62,104.50 188.25,107.91 198.88,121.56 209.51,121.56 220.14,114.74 230.77,111.33 241.40,124.98 252.03,124.98 262.67,121.56 273.30,128.39 283.93,128.39 294.56,135.21 305.19,128.39 315.82,148.86 326.45,148.86 337.08,176.16 347.71,162.51 358.34,162.51 368.97,138.62 379.61,145.45 390.24,172.75 400.87,165.93 411.50,159.10 422.13,179.58 432.76,179.58 443.39,176.16 454.02,162.51 464.65,145.45 475.29,142.04 485.92,142.04 496.55,179.58 507.18,142.04 517.81,155.69 528.44,148.86 539.07,165.93 549.70,172.75 560.33,159.10 570.96,162.51 581.60,159.10 592.23,169.34 602.86,128.39 613.49,145.45 624.12,135.21 634.75,145.45 645.38,142.04 656.01,128.39 666.64,128.39 677.27,128.39 687.91,138.62 698.54,155.69 709.17,145.45 719.80,148.86 730.43,159.10 741.06,159.10 751.69,142.04 762.32,142.04" fill="none" stroke="#1a4ae2" stroke-width="2.4" stroke-linejoin="round"/>
<rect x="107.03" y="97.70" width="13.6" height="13.6" rx="5.4" fill="#fff"/><rect x="109.53" y="100.20" width="8.6" height="8.6" rx="3.3" fill="#2f66df" stroke="#0e46e2" stroke-width="1"/>
<rect x="117.66" y="97.70" width="13.6" height="13.6" rx="5.4" fill="#fff"/><rect x="120.16" y="100.20" width="8.6" height="8.6" rx="3.3" fill="#2f66df" stroke="#0e46e2" stroke-width="1"/>
<rect x="128.29" y="101.11" width="13.6" height="13.6" rx="5.4" fill="#fff"/><rect x="130.79" y="103.61" width="8.6" height="8.6" rx="3.3" fill="#2f66df" stroke="#0e46e2" stroke-width="1"/>
<rect x="138.92" y="104.53" width="13.6" height="13.6" rx="5.4" fill="#fff"/><rect x="141.42" y="107.03" width="8.6" height="8.6" rx="3.3" fill="#2f66df" stroke="#0e46e2" stroke-width="1"/>
<rect x="149.56" y="111.35" width="13.6" height="13.6" rx="5.4" fill="#fff"/><rect x="152.06" y="113.85" width="8.6" height="8.6" rx="3.3" fill="#2f66df" stroke="#0e46e2" stroke-width="1"/>
<rect x="160.19" y="97.70" width="13.6" height="13.6" rx="5.4" fill="#fff"/><rect x="162.69" y="100.20" width="8.6" height="8.6" rx="3.3" fill="#2f66df" stroke="#0e46e2" stroke-width="1"/>
<rect x="170.82" y="97.70" width="13.6" height="13.6" rx="5.4" fill="#fff"/><rect x="173.32" y="100.20" width="8.6" height="8.6" rx="3.3" fill="#2f66df" stroke="#0e46e2" stroke-width="1"/>
<rect x="181.45" y="101.11" width="13.6" height="13.6" rx="5.4" fill="#fff"/><rect x="183.95" y="103.61" width="8.6" height="8.6" rx="3.3" fill="#2f66df" stroke="#0e46e2" stroke-width="1"/>
<rect x="192.08" y="114.76" width="13.6" height="13.6" rx="5.4" fill="#fff"/><rect x="194.58" y="117.26" width="8.6" height="8.6" rx="3.3" fill="#2f66df" stroke="#0e46e2" stroke-width="1"/>
<rect x="202.71" y="114.76" width="13.6" height="13.6" rx="5.4" fill="#fff"/><rect x="205.21" y="117.26" width="8.6" height="8.6" rx="3.3" fill="#2f66df" stroke="#0e46e2" stroke-width="1"/>
<rect x="213.34" y="107.94" width="13.6" height="13.6" rx="5.4" fill="#fff"/><rect x="215.84" y="110.44" width="8.6" height="8.6" rx="3.3" fill="#2f66df" stroke="#0e46e2" stroke-width="1"/>
<rect x="223.97" y="104.53" width="13.6" height="13.6" rx="5.4" fill="#fff"/><rect x="226.47" y="107.03" width="8.6" height="8.6" rx="3.3" fill="#2f66df" stroke="#0e46e2" stroke-width="1"/>
<rect x="234.60" y="118.18" width="13.6" height="13.6" rx="5.4" fill="#fff"/><rect x="237.10" y="120.68" width="8.6" height="8.6" rx="3.3" fill="#2f66df" stroke="#0e46e2" stroke-width="1"/>
<rect x="245.23" y="118.18" width="13.6" height="13.6" rx="5.4" fill="#fff"/><rect x="247.73" y="120.68" width="8.6" height="8.6" rx="3.3" fill="#2f66df" stroke="#0e46e2" stroke-width="1"/>
<rect x="255.87" y="114.76" width="13.6" height="13.6" rx="5.4" fill="#fff"/><rect x="258.37" y="117.26" width="8.6" height="8.6" rx="3.3" fill="#2f66df" stroke="#0e46e2" stroke-width="1"/>
<rect x="266.50" y="121.59" width="13.6" height="13.6" rx="5.4" fill="#fff"/><rect x="269.00" y="124.09" width="8.6" height="8.6" rx="3.3" fill="#2f66df" stroke="#0e46e2" stroke-width="1"/>
<rect x="277.13" y="121.59" width="13.6" height="13.6" rx="5.4" fill="#fff"/><rect x="279.63" y="124.09" width="8.6" height="8.6" rx="3.3" fill="#2f66df" stroke="#0e46e2" stroke-width="1"/>
<rect x="287.76" y="128.41" width="13.6" height="13.6" rx="5.4" fill="#fff"/><rect x="290.26" y="130.91" width="8.6" height="8.6" rx="3.3" fill="#2f66df" stroke="#0e46e2" stroke-width="1"/>
<rect x="298.39" y="121.59" width="13.6" height="13.6" rx="5.4" fill="#fff"/><rect x="300.89" y="124.09" width="8.6" height="8.6" rx="3.3" fill="#2f66df" stroke="#0e46e2" stroke-width="1"/>
<rect x="309.02" y="142.06" width="13.6" height="13.6" rx="5.4" fill="#fff"/><rect x="311.52" y="144.56" width="8.6" height="8.6" rx="3.3" fill="#2f66df" stroke="#0e46e2" stroke-width="1"/>
<rect x="319.65" y="142.06" width="13.6" height="13.6" rx="5.4" fill="#fff"/><rect x="322.15" y="144.56" width="8.6" height="8.6" rx="3.3" fill="#2f66df" stroke="#0e46e2" stroke-width="1"/>
<rect x="330.28" y="169.36" width="13.6" height="13.6" rx="5.4" fill="#fff"/><rect x="332.78" y="171.86" width="8.6" height="8.6" rx="3.3" fill="#2f66df" stroke="#0e46e2" stroke-width="1"/>
<rect x="340.91" y="155.71" width="13.6" height="13.6" rx="5.4" fill="#fff"/><rect x="343.41" y="158.21" width="8.6" height="8.6" rx="3.3" fill="#2f66df" stroke="#0e46e2" stroke-width="1"/>
<rect x="351.54" y="155.71" width="13.6" height="13.6" rx="5.4" fill="#fff"/><rect x="354.04" y="158.21" width="8.6" height="8.6" rx="3.3" fill="#2f66df" stroke="#0e46e2" stroke-width="1"/>
<rect x="362.17" y="131.82" width="13.6" height="13.6" rx="5.4" fill="#fff"/><rect x="364.67" y="134.32" width="8.6" height="8.6" rx="3.3" fill="#2f66df" stroke="#0e46e2" stroke-width="1"/>
<rect x="372.81" y="138.65" width="13.6" height="13.6" rx="5.4" fill="#fff"/><rect x="375.31" y="141.15" width="8.6" height="8.6" rx="3.3" fill="#2f66df" stroke="#0e46e2" stroke-width="1"/>
<rect x="383.44" y="165.95" width="13.6" height="13.6" rx="5.4" fill="#fff"/><rect x="385.94" y="168.45" width="8.6" height="8.6" rx="3.3" fill="#2f66df" stroke="#0e46e2" stroke-width="1"/>
<rect x="394.07" y="159.12" width="13.6" height="13.6" rx="5.4" fill="#fff"/><rect x="396.57" y="161.62" width="8.6" height="8.6" rx="3.3" fill="#2f66df" stroke="#0e46e2" stroke-width="1"/>
<rect x="404.70" y="152.30" width="13.6" height="13.6" rx="5.4" fill="#fff"/><rect x="407.20" y="154.80" width="8.6" height="8.6" rx="3.3" fill="#2f66df" stroke="#0e46e2" stroke-width="1"/>
<rect x="415.33" y="172.78" width="13.6" height="13.6" rx="5.4" fill="#fff"/><rect x="417.83" y="175.28" width="8.6" height="8.6" rx="3.3" fill="#2f66df" stroke="#0e46e2" stroke-width="1"/>
<rect x="425.96" y="172.78" width="13.6" height="13.6" rx="5.4" fill="#fff"/><rect x="428.46" y="175.28" width="8.6" height="8.6" rx="3.3" fill="#2f66df" stroke="#0e46e2" stroke-width="1"/>
<rect x="436.59" y="169.36" width="13.6" height="13.6" rx="5.4" fill="#fff"/><rect x="439.09" y="171.86" width="8.6" height="8.6" rx="3.3" fill="#2f66df" stroke="#0e46e2" stroke-width="1"/>
<rect x="447.22" y="155.71" width="13.6" height="13.6" rx="5.4" fill="#fff"/><rect x="449.72" y="158.21" width="8.6" height="8.6" rx="3.3" fill="#2f66df" stroke="#0e46e2" stroke-width="1"/>
<rect x="457.85" y="138.65" width="13.6" height="13.6" rx="5.4" fill="#fff"/><rect x="460.35" y="141.15" width="8.6" height="8.6" rx="3.3" fill="#2f66df" stroke="#0e46e2" stroke-width="1"/>
<rect x="468.49" y="135.24" width="13.6" height="13.6" rx="5.4" fill="#fff"/><rect x="470.99" y="137.74" width="8.6" height="8.6" rx="3.3" fill="#2f66df" stroke="#0e46e2" stroke-width="1"/>
<rect x="479.12" y="135.24" width="13.6" height="13.6" rx="5.4" fill="#fff"/><rect x="481.62" y="137.74" width="8.6" height="8.6" rx="3.3" fill="#2f66df" stroke="#0e46e2" stroke-width="1"/>
<rect x="489.75" y="172.78" width="13.6" height="13.6" rx="5.4" fill="#fff"/><rect x="492.25" y="175.28" width="8.6" height="8.6" rx="3.3" fill="#2f66df" stroke="#0e46e2" stroke-width="1"/>
<rect x="500.38" y="135.24" width="13.6" height="13.6" rx="5.4" fill="#fff"/><rect x="502.88" y="137.74" width="8.6" height="8.6" rx="3.3" fill="#2f66df" stroke="#0e46e2" stroke-width="1"/>
<rect x="511.01" y="148.89" width="13.6" height="13.6" rx="5.4" fill="#fff"/><rect x="513.51" y="151.39" width="8.6" height="8.6" rx="3.3" fill="#2f66df" stroke="#0e46e2" stroke-width="1"/>
<rect x="521.64" y="142.06" width="13.6" height="13.6" rx="5.4" fill="#fff"/><rect x="524.14" y="144.56" width="8.6" height="8.6" rx="3.3" fill="#2f66df" stroke="#0e46e2" stroke-width="1"/>
<rect x="532.27" y="159.12" width="13.6" height="13.6" rx="5.4" fill="#fff"/><rect x="534.77" y="161.62" width="8.6" height="8.6" rx="3.3" fill="#2f66df" stroke="#0e46e2" stroke-width="1"/>
<rect x="542.90" y="165.95" width="13.6" height="13.6" rx="5.4" fill="#fff"/><rect x="545.40" y="168.45" width="8.6" height="8.6" rx="3.3" fill="#2f66df" stroke="#0e46e2" stroke-width="1"/>
<rect x="553.53" y="152.30" width="13.6" height="13.6" rx="5.4" fill="#fff"/><rect x="556.03" y="154.80" width="8.6" height="8.6" rx="3.3" fill="#2f66df" stroke="#0e46e2" stroke-width="1"/>
<rect x="564.16" y="155.71" width="13.6" height="13.6" rx="5.4" fill="#fff"/><rect x="566.66" y="158.21" width="8.6" height="8.6" rx="3.3" fill="#2f66df" stroke="#0e46e2" stroke-width="1"/>
<rect x="574.80" y="152.30" width="13.6" height="13.6" rx="5.4" fill="#fff"/><rect x="577.30" y="154.80" width="8.6" height="8.6" rx="3.3" fill="#2f66df" stroke="#0e46e2" stroke-width="1"/>
<rect x="585.43" y="162.54" width="13.6" height="13.6" rx="5.4" fill="#fff"/><rect x="587.93" y="165.04" width="8.6" height="8.6" rx="3.3" fill="#2f66df" stroke="#0e46e2" stroke-width="1"/>
<rect x="596.06" y="121.59" width="13.6" height="13.6" rx="5.4" fill="#fff"/><rect x="598.56" y="124.09" width="8.6" height="8.6" rx="3.3" fill="#2f66df" stroke="#0e46e2" stroke-width="1"/>
<rect x="606.69" y="138.65" width="13.6" height="13.6" rx="5.4" fill="#fff"/><rect x="609.19" y="141.15" width="8.6" height="8.6" rx="3.3" fill="#2f66df" stroke="#0e46e2" stroke-width="1"/>
<rect x="617.32" y="128.41" width="13.6" height="13.6" rx="5.4" fill="#fff"/><rect x="619.82" y="130.91" width="8.6" height="8.6" rx="3.3" fill="#2f66df" stroke="#0e46e2" stroke-width="1"/>
<rect x="627.95" y="138.65" width="13.6" height="13.6" rx="5.4" fill="#fff"/><rect x="630.45" y="141.15" width="8.6" height="8.6" rx="3.3" fill="#2f66df" stroke="#0e46e2" stroke-width="1"/>
<rect x="638.58" y="135.24" width="13.6" height="13.6" rx="5.4" fill="#fff"/><rect x="641.08" y="137.74" width="8.6" height="8.6" rx="3.3" fill="#2f66df" stroke="#0e46e2" stroke-width="1"/>
<rect x="649.21" y="121.59" width="13.6" height="13.6" rx="5.4" fill="#fff"/><rect x="651.71" y="124.09" width="8.6" height="8.6" rx="3.3" fill="#2f66df" stroke="#0e46e2" stroke-width="1"/>
<rect x="659.84" y="121.59" width="13.6" height="13.6" rx="5.4" fill="#fff"/><rect x="662.34" y="124.09" width="8.6" height="8.6" rx="3.3" fill="#2f66df" stroke="#0e46e2" stroke-width="1"/>
<rect x="670.47" y="121.59" width="13.6" height="13.6" rx="5.4" fill="#fff"/><rect x="672.97" y="124.09" width="8.6" height="8.6" rx="3.3" fill="#2f66df" stroke="#0e46e2" stroke-width="1"/>
<rect x="681.11" y="131.82" width="13.6" height="13.6" rx="5.4" fill="#fff"/><rect x="683.61" y="134.32" width="8.6" height="8.6" rx="3.3" fill="#2f66df" stroke="#0e46e2" stroke-width="1"/>
<rect x="691.74" y="148.89" width="13.6" height="13.6" rx="5.4" fill="#fff"/><rect x="694.24" y="151.39" width="8.6" height="8.6" rx="3.3" fill="#2f66df" stroke="#0e46e2" stroke-width="1"/>
<rect x="702.37" y="138.65" width="13.6" height="13.6" rx="5.4" fill="#fff"/><rect x="704.87" y="141.15" width="8.6" height="8.6" rx="3.3" fill="#2f66df" stroke="#0e46e2" stroke-width="1"/>
<rect x="713.00" y="142.06" width="13.6" height="13.6" rx="5.4" fill="#fff"/><rect x="715.50" y="144.56" width="8.6" height="8.6" rx="3.3" fill="#2f66df" stroke="#0e46e2" stroke-width="1"/>
<rect x="723.63" y="152.30" width="13.6" height="13.6" rx="5.4" fill="#fff"/><rect x="726.13" y="154.80" width="8.6" height="8.6" rx="3.3" fill="#2f66df" stroke="#0e46e2" stroke-width="1"/>
<rect x="734.26" y="152.30" width="13.6" height="13.6" rx="5.4" fill="#fff"/><rect x="736.76" y="154.80" width="8.6" height="8.6" rx="3.3" fill="#2f66df" stroke="#0e46e2" stroke-width="1"/>
<rect x="744.89" y="135.24" width="13.6" height="13.6" rx="5.4" fill="#fff"/><rect x="747.39" y="137.74" width="8.6" height="8.6" rx="3.3" fill="#2f66df" stroke="#0e46e2" stroke-width="1"/>
<rect x="755.52" y="135.24" width="13.6" height="13.6" rx="5.4" fill="#fff"/><rect x="758.02" y="137.74" width="8.6" height="8.6" rx="3.3" fill="#2f66df" stroke="#0e46e2" stroke-width="1"/>

<text x="98" y="107.8" text-anchor="end" class="ax" style="font-size:9.6px">1位</text>
<text x="98.5" y="173.0" text-anchor="end" class="ax">20位</text>
<text x="98.5" y="241.3" text-anchor="end" class="ax">40位</text>
<text x="98.5" y="309.5" text-anchor="end" class="ax">60位</text>
<text x="98.5" y="377.8" text-anchor="end" class="ax">80位</text>
<text x="98.5" y="446.0" text-anchor="end" class="ax">100位</text>
<text x="156.9" y="469" text-anchor="middle" class="ax">5週</text>
<text x="210.0" y="469" text-anchor="middle" class="ax">10週</text>
<text x="263.2" y="469" text-anchor="middle" class="ax">15週</text>
<text x="316.3" y="469" text-anchor="middle" class="ax">20週</text>
<text x="369.5" y="469" text-anchor="middle" class="ax">25週</text>
<text x="422.6" y="469" text-anchor="middle" class="ax">30週</text>
<text x="475.8" y="469" text-anchor="middle" class="ax">35週</text>
<text x="528.9" y="469" text-anchor="middle" class="ax">40週</text>
<text x="582.1" y="469" text-anchor="middle" class="ax">45週</text>
<text x="635.2" y="469" text-anchor="middle" class="ax">50週</text>
<text x="688.4" y="469" text-anchor="middle" class="ax">55週</text>
<text x="741.6" y="469" text-anchor="middle" class="ax">60週</text>
</svg>

<!-- left controls -->
<div class="dk" style="left:14px;top:103px;width:40px;height:37px"></div>
<div class="dk" style="left:14px;top:150px;width:39px;height:36px"></div>
<div class="dk" style="left:18px;top:361px;width:30px;height:39px"></div>
<div class="dk" style="left:18px;top:410px;width:30px;height:39px"></div>
<!-- bottom nav -->
<div class="dk" style="left:106px;top:483px;width:40px;height:31px"></div>
<div class="dk" style="left:156px;top:483px;width:40px;height:31px"></div>
<div class="dk" style="left:680px;top:483px;width:40px;height:31px"></div>
<div class="dk" style="left:730px;top:483px;width:40px;height:31px"></div>
<div class="a" style="left:355px;top:484px;width:81px;height:30px;background:#dfe3eb;font-size:12px;font-weight:500;color:#222;text-align:center;line-height:30px">画面表示</div>
<svg class="a" style="left:430px;top:484px" width="15" height="30"><polygon points="5.5,12 10.6,15 5.5,18" fill="#dfe3eb"/></svg>


<svg class="a" style="left:0;top:0" width="800" height="541">
<!-- refresh icon -->
<g transform="translate(27,33.8)" fill="#333">
<path d="M2.6,-6.4 C-1.6,-6.9 -6.2,-4.4 -5.9,0.2 L-8.4,0.2 L-4.5,4 L-0.9,0.2 L-1.8,0.2 C-2.2,-2.4 -0.9,-5 2.6,-6.4Z"/>
<path transform="rotate(180)" d="M2.6,-6.4 C-1.6,-6.9 -6.2,-4.4 -5.9,0.2 L-8.4,0.2 L-4.5,4 L-0.9,0.2 L-1.8,0.2 C-2.2,-2.4 -0.9,-5 2.6,-6.4Z"/>
</g>
<!-- zoom in -->
<circle cx="31.6" cy="120.4" r="8.1" fill="none" stroke="#fff" stroke-width="2.6"/>
<line x1="37.6" y1="126.4" x2="43" y2="131.8" stroke="#fff" stroke-width="3" stroke-linecap="round"/>
<rect x="27.9" y="119" width="7.4" height="2.8" fill="#fff"/>
<rect x="30.2" y="116.7" width="2.8" height="7.4" fill="#fff"/>
<!-- zoom out -->
<circle cx="31.2" cy="166" r="8" fill="none" stroke="#fff" stroke-width="2.6"/>
<line x1="37.2" y1="172" x2="42.6" y2="177.4" stroke="#fff" stroke-width="3" stroke-linecap="round"/>
<rect x="27.8" y="164.9" width="7" height="2.8" fill="#fff"/>
<!-- up / down -->
<g fill="none" stroke="#fff" stroke-width="2.9" stroke-linejoin="miter">
<polyline points="25.4,379.1 31.7,374.3 38,379.1"/>
<polyline points="25.4,388.8 31.7,384 38,388.8"/>
<polyline points="25.2,424.1 31.5,428.9 37.8,424.1"/>
<polyline points="25.2,432.2 31.5,437 37.8,432.2"/>
<!-- nav -->
<polyline points="124.4,491.4 118.6,497.4 124.4,503.4"/>
<polyline points="133.6,491.4 127.8,497.4 133.6,503.4"/>
<polyline points="179,491.4 173.2,497.4 179,503.4"/>
<polyline points="697,491.4 702.8,497.4 697,503.4"/>
<polyline points="742.4,491.4 748.2,497.4 742.4,503.4"/>
<polyline points="751.6,491.4 757.4,497.4 751.6,503.4"/>
</g>
<!-- purple icon -->
<g stroke="#6a48c0" stroke-width="1.1" fill="#fff">
<circle cx="360.3" cy="21.8" r="9.6"/>
<circle cx="369.6" cy="37.6" r="9.4"/>
<circle cx="352.6" cy="37.4" r="9.6"/>
</g>
<path d="M355.4,25 h10.2 a2.3,2.3 0 0 0 -0.5,-4.5 a3.1,3.1 0 0 0 -5.6,-1.3 a2.3,2.3 0 0 0 -3.4,1.9 a2,2 0 0 0 -0.7,3.9z" fill="#8a6dcd"/>
<g fill="none" stroke="#5a36b5" stroke-width="1.5">
<polyline points="348.1,38.8 348.1,42 357.4,42 357.4,38.8"/>
</g>
<rect x="351.5" y="32.8" width="2.4" height="4" fill="#5a36b5"/>
<polygon points="348.9,36.2 356.5,36.2 352.7,39.6" fill="#5a36b5"/>
<g fill="#5a36b5">
<polygon points="366.6,30.8 368,30.8 367.9,34.8 367,34.8"/>
<polygon points="369.2,30.9 370.4,31 369.7,34.6 369,34.5"/>
<polygon points="367.4,42.4 368.4,42.4 369.2,46.2 367.8,46.2"/>
<polygon points="369.3,42.3 370.2,42.1 371.6,45.8 370.4,46.1"/>
</g>
<circle cx="368.6" cy="38.2" r="1.6" fill="none" stroke="#8a6dcd" stroke-width="1"/>
<!-- radio icon -->
<g fill="none" stroke="#fff" stroke-width="2">
<path d="M431.3,37.9 A10.3,10.3 0 1 1 445.1,37.9"/>
<path d="M433.7,34.4 A6,6 0 1 1 442.7,34.4"/>
</g>
<circle cx="438.2" cy="29.7" r="2.9" fill="#fff"/>
<path d="M436.8,30.5 C437,36 435.6,40.2 433.1,42.9 L443.3,42.9 C440.8,40.2 439.4,36 439.6,30.5 Z" fill="#fff"/>
<!-- monitor + cd -->
<rect x="501" y="18.6" width="23.6" height="14" fill="none" stroke="#fff" stroke-width="1.8"/>
<rect x="511.6" y="32.6" width="2" height="5.5" fill="#fff"/>
<rect x="507.9" y="37.6" width="9.7" height="2" fill="#fff"/>
<circle cx="530.6" cy="31" r="11.6" fill="#fff" stroke="#f29a48" stroke-width="1.3"/>
<circle cx="529.9" cy="30.8" r="2.4" fill="none" stroke="#f08a2a" stroke-width="1.2"/>
<g fill="#f08a2a">
<polygon points="526.9,20.7 528.2,20.5 529.2,26.4 528.3,26.6"/>
<polygon points="530.3,20.4 531.5,20.6 530.6,26.3 529.7,26.2"/>
<polygon points="529.3,35 530.3,34.9 531.9,41.4 530.4,41.5"/>
<polygon points="531.2,34.7 532.1,34.4 534.6,40.4 533.2,40.8"/>
</g>
<!-- twitter -->
<path transform="translate(584.1,15.4) scale(1.158)" fill="#fff" d="M23.954 4.569c-.885.389-1.83.654-2.825.775 1.014-.611 1.794-1.574 2.163-2.723-.951.555-2.005.959-3.127 1.184-.896-.959-2.173-1.559-3.591-1.559-2.717 0-4.92 2.203-4.92 4.917 0 .39.045.765.127 1.124C7.691 8.094 4.066 6.13 1.64 3.161c-.427.722-.666 1.561-.666 2.475 0 1.71.87 3.213 2.188 4.096-.807-.026-1.566-.248-2.228-.616v.061c0 2.385 1.693 4.374 3.946 4.827-.413.111-.849.171-1.296.171-.314 0-.615-.03-.916-.086.631 1.953 2.445 3.377 4.604 3.417-1.680 1.319-3.809 2.105-6.102 2.105-.39 0-.779-.023-1.17-.067 2.189 1.394 4.768 2.209 7.557 2.209 9.054 0 13.999-7.496 13.999-13.986 0-.209 0-.42-.015-.63.961-.689 1.8-1.56 2.46-2.548l-.047-.02z"/>
<!-- youtube -->
<rect x="660.2" y="20.9" width="30" height="20.4" rx="5.5" fill="#fff"/>
<polygon points="672,26.5 680.2,30.7 672,34.9" fill="#d21d1d"/>
</svg>
</div>
<div class="a" style="left:448px;top:483px;width:73px;height:31px;border:1px solid #8a8a8a;background:#fff;font-size:14.5px;color:#111;line-height:28px;padding-left:4px">90<span style="font-size:12.5px">週</span><svg style="position:absolute;left:0;top:0" width="73" height="31"><polygon points="59,11 65,11 62,16.5" fill="#111"/></svg></div>
</body></html>
